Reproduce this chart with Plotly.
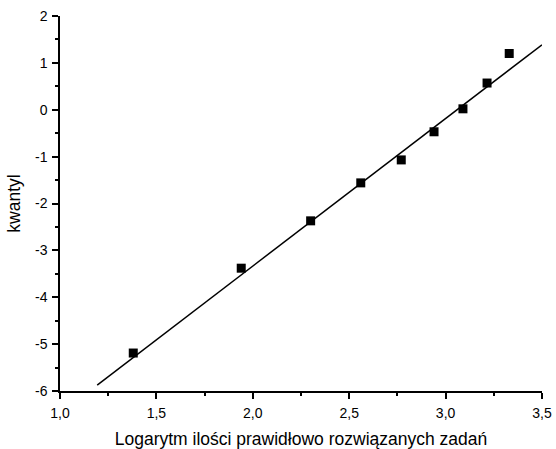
import plotly.graph_objects as go

# Observed quantiles vs. log of correctly solved tasks
log_solved = [1.38, 1.94, 2.30, 2.56, 2.77, 2.94, 3.09, 3.215, 3.33]
quantile = [-5.19, -3.38, -2.37, -1.56, -1.07, -0.47, 0.02, 0.57, 1.20]

# Fitted regression line
fit_slope = 3.147
fit_intercept = -9.628
fit_x = [1.193, 3.5]
fit_y = [fit_slope * x + fit_intercept for x in fit_x]

# Tick labels (hyphen as the minus sign, comma as the decimal separator)
y_ticks = [-6, -5, -4, -3, -2, -1, 0, 1, 2]
y_tick_labels = [str(v) for v in y_ticks]
x_ticks = [1.0, 1.5, 2.0, 2.5, 3.0, 3.5]
x_tick_labels = [f"{v:.1f}".replace(".", ",") for v in x_ticks]

FONT = "Liberation Sans, Arial"

fig = go.Figure()
fig.add_trace(go.Scatter(
    x=fit_x, y=fit_y, mode="lines",
    line=dict(color="black", width=1.5), showlegend=False,
))
fig.add_trace(go.Scatter(
    x=log_solved, y=quantile, mode="markers",
    marker=dict(symbol="square", size=9, color="black"),
    showlegend=False,
))

axis_common = dict(
    showgrid=False, zeroline=False, showline=True, linecolor="black",
    linewidth=1.5, ticks="outside", ticklen=6, tickwidth=1.5, tickcolor="black",
    mirror=False, automargin=False, ticklabelstandoff=2,
    tickfont=dict(family=FONT, size=14, color="black"),
)

fig.update_layout(
    width=556, height=449,
    margin=dict(l=60, r=14, t=16, b=58),
    plot_bgcolor="white", paper_bgcolor="white",
    font=dict(family=FONT, color="black"),
    xaxis=dict(
        range=[1.0, 3.5], tickmode="array", tickvals=x_ticks, ticktext=x_tick_labels,
        minor=dict(ticks="outside", ticklen=3, dtick=0.25, tickwidth=1.5, tickcolor="black"),
        title=dict(text="Logarytm ilości prawidłowo rozwiązanych zadań",
                   font=dict(size=17.5), standoff=14),
        **axis_common,
    ),
    yaxis=dict(
        range=[-6, 2], tickmode="array", tickvals=y_ticks, ticktext=y_tick_labels,
        minor=dict(ticks="outside", ticklen=3, dtick=0.5, tickwidth=1.5, tickcolor="black"),
        title=dict(text="kwantyl", font=dict(size=17.5), standoff=10),
        **axis_common,
    ),
)

fig.write_html("out.html")
